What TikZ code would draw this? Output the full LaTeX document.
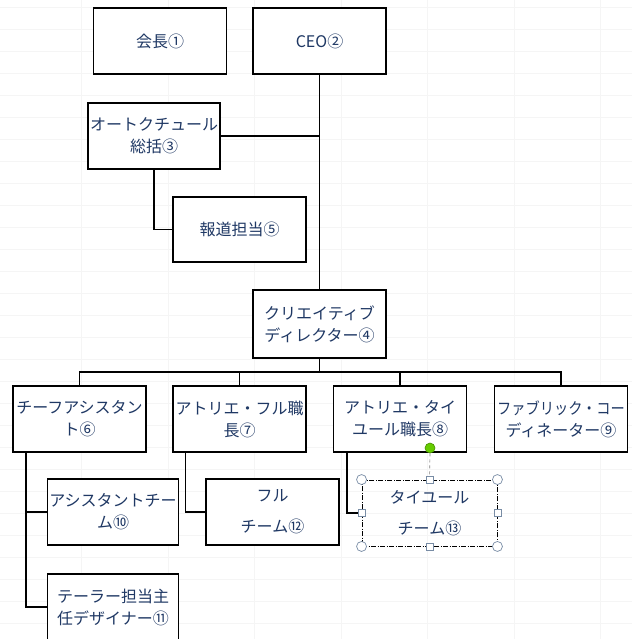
\documentclass[tikz,border=0pt]{standalone}
\usepackage{graphicx}
\usepackage{fontspec}
\setmainfont{Noto Sans CJK JP}
\definecolor{txtblue}{RGB}{31,56,100}
\definecolor{handleedge}{RGB}{120,140,165}
\definecolor{rotgreen}{RGB}{102,204,0}
\tikzset{
  orgbox/.style={draw=black, line width=1.3pt, fill=white, rectangle,
    minimum width=133pt, minimum height=66pt, inner sep=0pt, align=center,
    text=txtblue, font=\fontsize{16}{22}\selectfont},
  conn/.style={draw=black, line width=1.3pt},
  selbox/.style={rectangle, minimum width=135pt, minimum height=66pt, inner sep=0pt,
    align=center, text=txtblue, font=\fontsize{16}{22}\selectfont,
    draw=black, line width=0.9pt, dash pattern=on 5pt off 1.5pt on 1pt off 1.5pt},
  cornerhandle/.style={circle, draw=handleedge, fill=white, line width=0.7pt,
    minimum size=10pt, inner sep=0pt},
  edgehandle/.style={rectangle, draw=handleedge, fill=white, line width=0.7pt,
    minimum size=7pt, inner sep=0pt},
  rothandle/.style={circle, draw=rotgreen!70!black, fill=rotgreen, line width=0.6pt,
    minimum size=10pt, inner sep=0pt},
  gridline/.style={draw=black!4, line width=0.6pt}
}
\begin{document}
\begin{tikzpicture}[x=1pt, y=-1pt]
\clip (0,0) rectangle (632,639);
\fill[white] (0,0) rectangle (632,639);
% faint background grid
\foreach \gx in {-5,81.5,...,640} { \draw[gridline] (\gx,0) -- (\gx,639); }
\foreach \gy in {7,29,...,645} { \draw[gridline] (0,\gy) -- (632,\gy); }

% top
\node[orgbox] (chair) at (160,41) {会長①};
\node[orgbox] (ceo) at (319.5,41) {CEO②};
\node[orgbox, minimum width=132pt] (haute) at (154,136) {オートクチュール\\総括③};
\node[orgbox, minimum height=65pt] (press) at (239.5,229.5) {報道担当⑤};
\node[orgbox, minimum height=68pt] (cd) at (319.5,324) {クリエイティブ\\ディレクター④};

% row
\node[orgbox] (chief) at (79.5,419) {チーフアシスタン\\ト⑥};
\node[orgbox] (full) at (239.5,419) {アトリエ・フル職\\長⑦};
\node[orgbox] (tai) at (400,419) {アトリエ・タイ\\ユール職長⑧};
\node[orgbox] (fabric) at (561,419) {\scalebox{0.89}[1]{ファブリック・コー}\\ディネーター⑨};

% bottom
\node[orgbox, minimum width=131pt] (ast) at (113,512) {アシスタントチー\\ム⑩};
\node[orgbox, minimum width=131pt] (tailor) at (113,607) {テーラー担当主\\任デザイナー⑪};
\node[orgbox] (fullteam) at (272.5,512) {フル\\[9pt]チーム⑫};
\node[selbox] (taiteam) at (429.5,513) {タイユール\\[9pt]チーム⑬};

% connectors
\coordinate (bus) at (319.5,372);
\draw[conn] (ceo.south) -- (cd.north);
\draw[conn] (haute.east) -- (haute.east -| ceo.south);
\draw[conn] (haute.south) |- (press.west);
\draw[conn] (cd.south) -- (bus);
\draw[conn] (chief.north) |- (bus) -| (fabric.north);
\draw[conn] (full.north) -- (full.north |- bus);
\draw[conn] (tai.north) -- (tai.north |- bus);
\draw[conn] ([xshift=13.6pt]chief.south west) |- (ast.west);
\draw[conn] ([xshift=13.6pt]chief.south west) |- (tailor.west);
\draw[conn] ([xshift=13pt]full.south west) |- (fullteam.west);
\draw[conn] ([xshift=14pt]tai.south west) |- (taiteam.west);

% selection handles
\node[rothandle] (rot) at (430,448) {};
\draw[draw=gray, line width=0.7pt, dashed] (rot.south) -- (taiteam.north);
\foreach \a in {north west, north east, south west, south east} {
  \node[cornerhandle] at (taiteam.\a) {};
}
\foreach \a in {north, south, west, east} {
  \node[edgehandle] at (taiteam.\a) {};
}
\end{tikzpicture}
\end{document}
